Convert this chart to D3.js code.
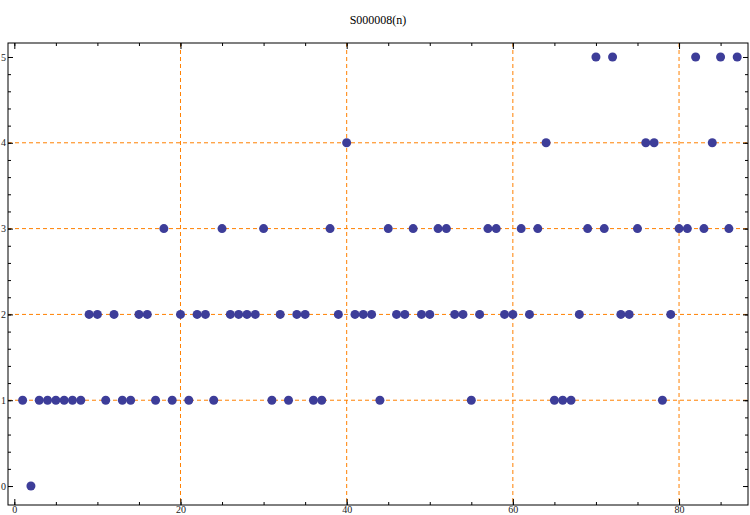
<!DOCTYPE html>
<html>
<head>
<meta charset="utf-8">
<script src="https://cdn.jsdelivr.net/npm/d3@7"></script>
<style>
  body { margin: 0; background: #fff; }
  text { font-family: "Liberation Serif", "DejaVu Serif", serif; }
</style>
</head>
<body>
<script>
// Sequence values, n = 1..87
const nValues = d3.range(1, 88);
const seqValues = [
  1, 0, 1, 1, 1, 1, 1, 1, 2, 2,
  1, 2, 1, 1, 2, 2, 1, 3, 1, 2,
  1, 2, 2, 1, 3, 2, 2, 2, 2, 3,
  1, 2, 1, 2, 2, 1, 1, 3, 2, 4,
  2, 2, 2, 1, 3, 2, 2, 3, 2, 2,
  3, 3, 2, 2, 1, 2, 3, 3, 2, 2,
  3, 2, 3, 4, 1, 1, 1, 2, 3, 5,
  3, 5, 2, 2, 3, 4, 4, 1, 2, 3,
  3, 5, 3, 4, 5, 3, 5
];
const xTickLabels = [0, 20, 40, 60, 80];
const yTickLabels = [0, 1, 2, 3, 4, 5];
const xGrid = [20, 40, 60, 80];
const yGrid = [1, 2, 3, 4];
const title = "S000008(n)";

const data = nValues.map((n, i) => ({ n: n, v: seqValues[i] }));

const W = 750, H = 515;
const margin = { left: 8, right: 748, top: 43, bottom: 505 };

const svg = d3.select("body")
              .append("svg")
              .attr("width", W)
              .attr("height", H);

// Scales
const x = d3.scaleLinear().domain([-0.76, 88.3]).range([margin.left, margin.right]);
const y = d3.scaleLinear().domain([-0.221, 5.163]).range([margin.bottom, margin.top]);

// Grid lines
svg.append("g").selectAll("line")
   .data(xGrid).enter().append("line")
   .attr("x1", d => x(d)).attr("x2", d => x(d))
   .attr("y1", margin.top).attr("y2", margin.bottom)
   .attr("stroke", "#ff8000").attr("stroke-dasharray", "4,3");

svg.append("g").selectAll("line")
   .data(yGrid).enter().append("line")
   .attr("x1", margin.left).attr("x2", margin.right)
   .attr("y1", d => y(d)).attr("y2", d => y(d))
   .attr("stroke", "#ff8000").attr("stroke-dasharray", "4,3");

// Frame ticks (pointing inward)
const xMinor = d3.range(0, 90, 5);
const yMinor = d3.range(0, 26).map(i => i * 0.2);

function ticks(axis, pos, vals, size) {
  svg.append("g")
     .attr("transform", pos)
     .call(axis.tickValues(vals).tickSize(size).tickFormat(""))
     .call(g => g.select(".domain").remove());
}

ticks(d3.axisTop(x), `translate(0,${margin.bottom})`, xMinor, 3);
ticks(d3.axisTop(x), `translate(0,${margin.bottom})`, xTickLabels, 6);
ticks(d3.axisBottom(x), `translate(0,${margin.top})`, xMinor, 3);
ticks(d3.axisBottom(x), `translate(0,${margin.top})`, xTickLabels, 6);
ticks(d3.axisRight(y), `translate(${margin.left},0)`, yMinor, 3);
ticks(d3.axisRight(y), `translate(${margin.left},0)`, yTickLabels, 5);
ticks(d3.axisLeft(y), `translate(${margin.right},0)`, yMinor, 3);
ticks(d3.axisLeft(y), `translate(${margin.right},0)`, yTickLabels, 5);

// Tick labels
svg.append("g")
   .attr("transform", `translate(0,${margin.bottom})`)
   .call(d3.axisBottom(x).tickValues(xTickLabels).tickSize(0).tickPadding(1).tickFormat(d3.format("d")))
   .call(g => g.select(".domain").remove());

svg.append("g")
   .attr("transform", `translate(${margin.left},0)`)
   .call(d3.axisLeft(y).tickValues(yTickLabels).tickSize(0).tickPadding(2).tickFormat(d3.format("d")))
   .call(g => g.select(".domain").remove());

svg.selectAll(".tick line").attr("stroke", "#000");
svg.selectAll(".tick text")
   .style("font-family", "Liberation Serif, serif")
   .style("font-size", "10px")
   .attr("fill", "#222");

// Frame
svg.append("rect")
   .attr("x", margin.left).attr("y", margin.top)
   .attr("width", margin.right - margin.left).attr("height", margin.bottom - margin.top)
   .attr("fill", "none").attr("stroke", "#000").attr("stroke-width", 1);

// Points
svg.append("g").selectAll("circle")
   .data(data).enter().append("circle")
   .attr("cx", d => x(d.n))
   .attr("cy", d => y(d.v))
   .attr("r", 4.5)
   .attr("fill", "#3d3d99");

// Title
svg.append("text")
   .attr("x", 378).attr("y", 24)
   .attr("text-anchor", "middle")
   .style("font-size", "12px")
   .text(title);
</script>
</body>
</html>
